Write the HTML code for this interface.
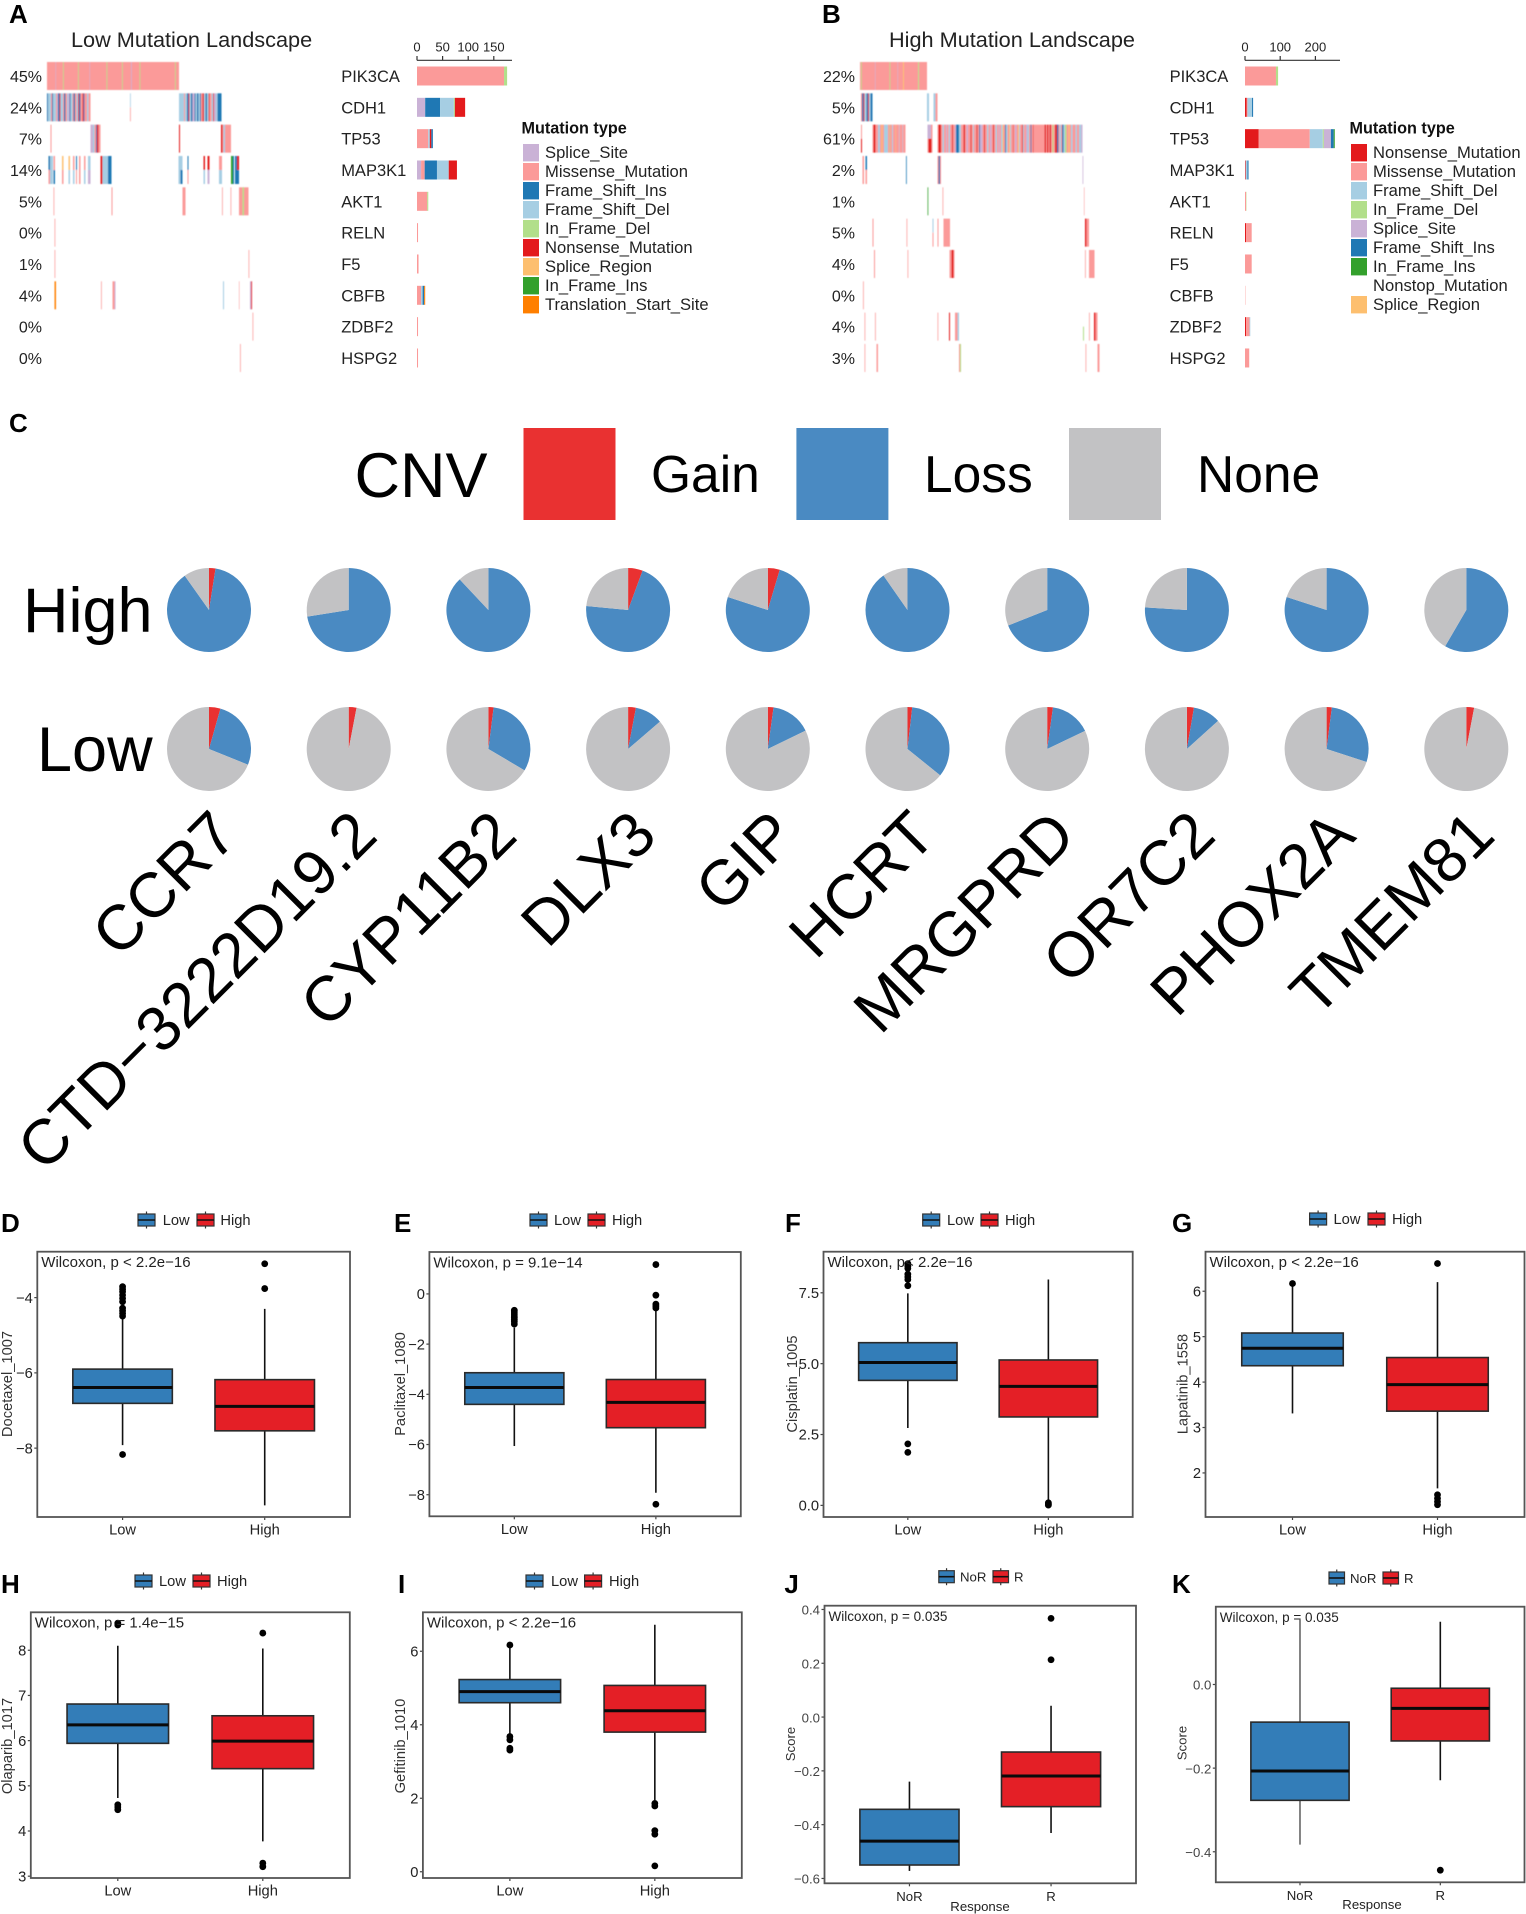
<!DOCTYPE html>
<html>
<head>
<meta charset="utf-8">
<title>Mutation landscape, CNV and drug sensitivity figure</title>
<style>
html,body{margin:0;padding:0;background:#fff;}
svg{display:block;font-family:"Liberation Sans",sans-serif;}
</style>
</head>
<body>
<svg id="fig" xmlns="http://www.w3.org/2000/svg" width="1526" height="1914" viewBox="0 0 1526 1914">
<defs><filter id="soft" x="-2%" y="-2%" width="104%" height="104%"><feGaussianBlur stdDeviation="0.45"/></filter></defs>
<rect width="1526" height="1914" fill="#fff"/>
<g id="onco"></g>
<g id="cnv"></g>
<g id="boxes"></g>
</svg>
<script>
/* ---------- Oncoplot data: [first sample, sample count, mutation code, optional half] ---------- */
const mutationColors = {M:'#FB9A99',N:'#E31A1C',I:'#1F78B4',D:'#A6CEE3',d:'#B2DF8A',i:'#33A02C',S:'#CAB2D6',R:'#FDBF6F',T:'#FF7F00'};
const geneNames = ['PIK3CA','CDH1','TP53','MAP3K1','AKT1','RELN','F5','CBFB','ZDBF2','HSPG2'];
const lowPercents = ['45%','24%','7%','14%','5%','0%','1%','4%','0%','0%'];
const highPercents = ['22%','5%','61%','2%','1%','5%','4%','0%','4%','3%'];

const lowPIK3CA = [[0,264,'M'],[32,1.5,'d'],[62,1.5,'d'],[119,1.5,'d'],[150,1.5,'d'],[185,1.5,'d'],[256,1.5,'d'],[17,1,'S'],[85,1,'S'],[168,1.5,'S']];
const lowCDH1 = [[0,2,'I'],[2,6,'D'],[8,2,'M'],[10,2,'I'],[12,6,'D'],[18,2,'M'],[20,2,'S'],[22,3,'I'],[25,2,'N'],[27,5,'D'],[32,2,'M'],[34,3,'I'],[37,3,'M'],[40,2,'D'],[42,3,'S'],[45,2,'I'],[47,4,'D'],[51,2,'M'],[53,3,'I'],[56,3,'M'],[59,3,'D'],[62,2,'N'],[64,3,'I'],[67,4,'M'],[71,2,'N'],[73,2,'I'],[75,5,'M'],[80,3,'D'],[83,4,'M'],[166,1.5,'D','t'],[166,1.5,'M','b'],[264,10,'D'],[274,2,'M'],[276,4,'D'],[280,3,'I'],[283,2,'N'],[285,3,'D'],[288,3,'I'],[291,4,'S'],[295,2,'I'],[297,3,'D'],[300,3,'I'],[303,3,'D'],[306,2,'I'],[308,3,'M'],[311,3,'N'],[314,3,'D'],[317,3,'I'],[320,3,'D'],[323,2,'N'],[325,4,'M'],[329,3,'D'],[332,2,'N'],[334,4,'S'],[338,3,'D'],[341,4,'I'],[345,4,'I']];
const lowTP53 = [[7,2,'M'],[87,5,'S'],[92,3,'D'],[95,3,'M'],[98,2,'I'],[100,3,'N'],[103,4,'M'],[264,2,'N'],[348,3,'N'],[351,2,'M'],[353,3,'D'],[356,12,'M']];
const lowMAP3K1 = [[3,3,'M','b'],[3,3,'I','t'],[6,4,'D'],[10,2,'D'],[13,3,'M','t'],[13,3,'I','b'],[30,3,'R','t'],[30,3,'M','b'],[43,3,'R','t'],[43,3,'D','b'],[52,3,'M','t'],[52,3,'D','b'],[58,2,'I','t'],[58,2,'M','b'],[64,3,'M'],[74,3,'M','t'],[74,3,'D','b'],[82,5,'D','t'],[82,5,'S','b'],[107,4,'N'],[111,11,'D'],[122,7,'I'],[263,8,'D'],[267,4,'I','b'],[281,2,'I','t'],[281,2,'M','b'],[313,3,'N','t'],[313,3,'D','b'],[321,4,'N','t'],[321,4,'S','b'],[344,6,'M','t'],[344,6,'D','b'],[368,4,'i'],[372,2,'I'],[376,4,'I'],[380,4,'N'],[376,8,'I','b']];
const lowAKT1 = [[13,1.5,'M'],[129,2,'M'],[271,6,'M'],[350,1.5,'M'],[367,1.5,'M'],[384,19,'M'],[391,3,'d']];
const lowRELN = [[15,1.5,'M']];
const lowF5 = [[15,1.5,'M'],[403,1.5,'M']];
const lowCBFB = [[15,3,'T'],[108,1.5,'M'],[131,4,'M'],[135,2,'S'],[352,2,'D'],[384,1,'M'],[406,2,'S'],[408,2,'N']];
const lowZDBF2 = [[411,1.5,'M']];
const lowHSPG2 = [[386,1.5,'M']];

const highPIK3CA = [[0,134,'M'],[2,1.5,'d'],[59,1.5,'d'],[86,2,'R'],[116,2,'d'],[30,1,'S'],[75,1,'S']];
const highCDH1 = [[2,2,'M'],[4,3,'I'],[7,2,'N'],[9,4,'D'],[13,3,'I'],[16,2,'N'],[18,3,'D'],[21,4,'I'],[134,4,'D'],[147,4,'D'],[151,4,'M']];
const highTP53 = [[2,2,'M','t'],[2,2,'N','b'],[25,2,'M'],[27,4,'N'],[31,5,'M'],[36,4,'D'],[40,3,'M'],[43,2,'R'],[45,3,'M'],[48,3,'D'],[51,5,'D'],[56,3,'M'],[59,1,'d'],[60,4,'M'],[64,2,'D'],[66,5,'M'],[71,1,'R'],[72,6,'M'],[78,1,'D'],[79,6,'M'],[85,1,'D'],[86,5,'M'],[135,7,'S','t'],[142,3,'M','t'],[135,2,'M','b'],[137,6,'N','b'],[143,2,'M','b'],[155,2,'M'],[157,5,'N'],[162,3,'M'],[165,3,'D'],[168,4,'M'],[172,2,'S'],[174,3,'M'],[177,3,'D'],[180,4,'M'],[184,2,'N'],[186,4,'M'],[190,2,'S'],[192,6,'I'],[198,4,'D'],[202,5,'M'],[207,3,'N'],[210,3,'M'],[213,3,'S'],[216,5,'M'],[221,2,'N'],[223,3,'M'],[226,2,'D'],[228,5,'M'],[233,2,'N'],[235,3,'M'],[238,2,'I'],[240,5,'S'],[245,3,'M'],[248,2,'N'],[250,4,'M'],[254,3,'D'],[257,3,'M'],[260,3,'S'],[263,3,'M'],[266,2,'N'],[268,3,'M'],[271,3,'D'],[274,3,'M'],[277,2,'S'],[279,3,'M'],[282,3,'D'],[285,2,'R'],[287,3,'M'],[290,2,'I'],[292,3,'D'],[295,3,'M'],[298,2,'R'],[300,2,'D'],[302,4,'M'],[306,1,'N'],[307,3,'M'],[310,3,'S'],[313,3,'M'],[316,2,'R'],[318,2,'D'],[320,4,'M'],[324,2,'N'],[326,2,'D'],[328,4,'M'],[332,3,'S'],[335,3,'D'],[338,3,'M'],[341,2,'I'],[343,3,'M'],[346,1.5,'N'],[347.5,21.5,'M'],[369,3,'N'],[372,2,'M'],[374,3,'N'],[377,2,'M'],[379,3,'N'],[382,3,'M'],[385,2,'d'],[387,3,'M'],[390,4,'N'],[394,3,'I'],[397,2,'M'],[399,3,'D'],[402,2,'M'],[404,3,'I'],[407,3,'D'],[410,3,'d'],[413,4,'M'],[417,2,'R'],[419,3,'M'],[422,3,'D'],[425,6,'M'],[431,3,'D'],[434,4,'M'],[438,4,'D'],[442,3,'S']];
const highMAP3K1 = [[5,3,'M'],[11,3,'I','t'],[11,3,'M','b'],[92,1.5,'I'],[155,2,'M'],[157,3,'I'],[160,2,'M'],[445,1.5,'S']];
const highAKT1 = [[135,1.5,'i'],[165,1.5,'M'],[448,1,'M']];
const highRELN = [[25,2,'M'],[93,1.5,'M'],[145,2,'D','t'],[145,2,'M','b'],[155,2,'M'],[167,13,'M'],[450,3,'N'],[453,5,'M']];
const highF5 = [[28,2,'M'],[95,1.5,'M'],[179,4,'M'],[183,4,'N'],[187,2,'M'],[450,1.5,'M'],[458,11,'M']];
const highCBFB = [[6,1.5,'M']];
const highZDBF2 = [[9,1.5,'M'],[30,1.5,'M'],[155,1.5,'M'],[178,2,'N'],[190,5,'M'],[195,3,'D'],[446,2,'d','b'],[458,1.5,'M'],[468,3,'N'],[471,4,'M']];
const highHSPG2 = [[9,1.5,'M'],[33,3,'M'],[198,2,'M'],[200,2,'d'],[451,1.5,'M'],[475,4,'M']];

const lowRows = [lowPIK3CA,lowCDH1,lowTP53,lowMAP3K1,lowAKT1,lowRELN,lowF5,lowCBFB,lowZDBF2,lowHSPG2];
const highRows = [highPIK3CA,highCDH1,highTP53,highMAP3K1,highAKT1,highRELN,highF5,highCBFB,highZDBF2,highHSPG2];

/* Per-gene stacked counts for the right-hand bars */
const lowBars = [[['M',170],['d',6]],[['S',16],['I',29],['D',27],['d',2],['N',20]],[['M',22],['D',3],['N',3],['I',3]],[['S',8],['M',7],['I',24],['D',23],['N',16]],[['M',20],['d',2]],[['M',2]],[['M',3]],[['M',8],['D',3],['I',3],['T',2]],[['M',2]],[['M',2]]];
const highBars = [[['M',88],['d',6]],[['N',5],['M',2],['D',13],['I',3]],[['N',39],['M',145],['D',37],['d',3],['S',20],['I',8],['i',3]],[['N',2],['D',5],['I',3]],[['M',3],['d',1]],[['N',3],['M',16]],[['M',19]],[['M',1]],[['N',3],['M',10],['D',2]],[['M',12]]];
const lowBarTicks = [0,50,100,150];
const highBarTicks = [0,100,200];
const lowLegendLabels = [['S','Splice_Site'],['M','Missense_Mutation'],['I','Frame_Shift_Ins'],['D','Frame_Shift_Del'],['d','In_Frame_Del'],['N','Nonsense_Mutation'],['R','Splice_Region'],['i','In_Frame_Ins'],['T','Translation_Start_Site']];
const highLegendLabels = [['N','Nonsense_Mutation'],['M','Missense_Mutation'],['D','Frame_Shift_Del'],['d','In_Frame_Del'],['S','Splice_Site'],['I','Frame_Shift_Ins'],['i','In_Frame_Ins'],['','Nonstop_Mutation'],['R','Splice_Region']];

/* ---------- CNV pie data (percent of samples) ---------- */
const cnvGenes = ['CCR7','CTD\u22123222D19.2','CYP11B2','DLX3','GIP','HCRT','MRGPRD','OR7C2','PHOX2A','TMEM81'];
const highGain = [2.5,0,0,5.6,4.6,0,0,0,0,0];
const highLoss = [87.7,72.5,88,70.9,75.4,90.3,69,76,80,58.4];
const highNone = [9.8,27.5,12,23.5,20,9.7,31,24,20,41.6];
const lowGain = [4.4,3,2,3,2.2,1.8,2.2,2.7,2,3];
const lowLoss = [26.7,0,31.5,10.7,15.6,34,15.7,10.6,28,0];
const lowNone = [68.9,97,66.5,86.3,82.2,64.2,82.1,86.7,70,97];

/* ---------- Boxplot data: [whisker low, q1, median, q3, whisker high] ---------- */
const docetaxelTicks = [-4,-6,-8];
const docetaxelLabels = ['\u22124','\u22126','\u22128'];
const docetaxelLow = [-7.92,-6.81,-6.39,-5.90,-4.55];
const docetaxelHigh = [-9.52,-7.54,-6.89,-6.18,-4.30];
const docetaxelLowOut = [-3.71,-3.78,-3.84,-3.93,-4.02,-4.11,-4.28,-4.35,-4.42,-4.49,-8.17];
const docetaxelHighOut = [-3.10,-3.76];

const paclitaxelTicks = [0,-2,-4,-6,-8];
const paclitaxelLabels = ['0','\u22122','\u22124','\u22126','\u22128'];
const paclitaxelLow = [-6.06,-4.40,-3.73,-3.14,-1.34];
const paclitaxelHigh = [-7.92,-5.33,-4.32,-3.41,-0.58];
const paclitaxelLowOut = [-0.65,-0.72,-0.8,-0.88,-0.95,-1.03,-1.1,-1.2];
const paclitaxelHighOut = [1.17,-0.05,-0.41,-0.49,-0.56,-8.38];

const cisplatinTicks = [7.5,5,2.5,0];
const cisplatinLabels = ['7.5','5.0','2.5','0.0'];
const cisplatinLow = [2.73,4.41,5.04,5.74,7.48];
const cisplatinHigh = [0.19,3.12,4.2,5.13,7.97];
const cisplatinLowOut = [8.53,8.44,8.36,8.16,8.06,7.97,7.75,2.17,1.87];
const cisplatinHighOut = [0.09,0.05,0.01];

const lapatinibTicks = [6,5,4,3,2];
const lapatinibLabels = ['6','5','4','3','2'];
const lapatinibLow = [3.31,4.36,4.745,5.08,6.12];
const lapatinibHigh = [1.66,3.36,3.945,4.54,6.2];
const lapatinibLowOut = [6.17];
const lapatinibHighOut = [6.61,1.52,1.44,1.37,1.3];

const olaparibTicks = [8,7,6,5,4,3];
const olaparibLabels = ['8','7','6','5','4','3'];
const olaparibLow = [4.73,5.94,6.35,6.81,8.1];
const olaparibHigh = [3.77,5.38,5.99,6.55,8.04];
const olaparibLowOut = [8.6,8.56,4.58,4.53,4.47];
const olaparibHighOut = [8.38,3.29,3.21];

const gefitinibTicks = [6,4,2,0];
const gefitinibLabels = ['6','4','2','0'];
const gefitinibLow = [3.72,4.6,4.9,5.23,6.13];
const gefitinibHigh = [1.95,3.8,4.38,5.07,6.72];
const gefitinibLowOut = [6.17,3.68,3.59,3.36,3.31];
const gefitinibHighOut = [1.86,1.79,1.12,1.02,0.16];

const scoreJTicks = [0.4,0.2,0,-0.2,-0.4,-0.6];
const scoreJLabels = ['0.4','0.2','0.0','\u22120.2','\u22120.4','\u22120.6'];
const scoreJNoR = [-0.572,-0.55,-0.461,-0.343,-0.24];
const scoreJR = [-0.431,-0.333,-0.219,-0.13,0.042];
const scoreJNoROut = [];
const scoreJROut = [0.367,0.213];

const scoreKTicks = [0,-0.2,-0.4];
const scoreKLabels = ['0.0','\u22120.2','\u22120.4'];
const scoreKNoR = [-0.383,-0.277,-0.207,-0.09,0.155];
const scoreKR = [-0.229,-0.135,-0.057,-0.009,0.15];
const scoreKNoROut = [];
const scoreKROut = [-0.444];

const lowHighCats = ['Low','High'];
const responseCats = ['NoR','R'];

const panels = [
 {id:'D',yTitle:'Docetaxel_1007',p:'Wilcoxon, p < 2.2e\u221216',ticks:docetaxelTicks,labels:docetaxelLabels,a:docetaxelLow,b:docetaxelHigh,ao:docetaxelLowOut,bo:docetaxelHighOut,cats:lowHighCats,domain:[-9.83,-2.78],l:37.3,r:350,t:1251.7,b2:1517,lx:1,ly:1232,tx:12,ty:1384,leg:[138,162.7,197,220.4,1220],fs:14.7},
 {id:'E',yTitle:'Paclitaxel_1080',p:'Wilcoxon, p = 9.1e\u221214',ticks:paclitaxelTicks,labels:paclitaxelLabels,a:paclitaxelLow,b:paclitaxelHigh,ao:paclitaxelLowOut,bo:paclitaxelHighOut,cats:lowHighCats,domain:[-8.86,1.67],l:429.4,r:740.8,t:1252,b2:1516.3,lx:394,ly:1232,tx:405,ty:1384,leg:[530,554,588,612,1220],fs:14.7},
 {id:'F',yTitle:'Cisplatin_1005',p:'Wilcoxon, p< 2.2e\u221216',ticks:cisplatinTicks,labels:cisplatinLabels,a:cisplatinLow,b:cisplatinHigh,ao:cisplatinLowOut,bo:cisplatinHighOut,cats:lowHighCats,domain:[-0.41,8.95],l:823.5,r:1132.7,t:1251.7,b2:1517,lx:785,ly:1232,tx:797,ty:1384,leg:[922.7,947,981,1005,1220],fs:14.7},
 {id:'G',yTitle:'Lapatinib_1558',p:'Wilcoxon, p < 2.2e\u221216',ticks:lapatinibTicks,labels:lapatinibLabels,a:lapatinibLow,b:lapatinibHigh,ao:lapatinibLowOut,bo:lapatinibHighOut,cats:lowHighCats,domain:[1.03,6.87],l:1205.5,r:1524.5,t:1251.7,b2:1517,lx:1172,ly:1232,tx:1187.5,ty:1384,leg:[1309.6,1333.5,1368,1392,1219],fs:14.7},
 {id:'H',yTitle:'Olaparib_1017',p:'Wilcoxon, p = 1.4e\u221215',ticks:olaparibTicks,labels:olaparibLabels,a:olaparibLow,b:olaparibHigh,ao:olaparibLowOut,bo:olaparibHighOut,cats:lowHighCats,domain:[2.96,8.84],l:30.8,r:349.8,t:1612.3,b2:1878,lx:1,ly:1593,tx:12,ty:1746,leg:[135,159,193,217,1581],fs:14.7},
 {id:'I',yTitle:'Gefitinib_1010',p:'Wilcoxon, p < 2.2e\u221216',ticks:gefitinibTicks,labels:gefitinibLabels,a:gefitinibLow,b:gefitinibHigh,ao:gefitinibLowOut,bo:gefitinibHighOut,cats:lowHighCats,domain:[-0.17,7.06],l:422.9,r:741.8,t:1612.3,b2:1878,lx:398,ly:1593,tx:405,ty:1746,leg:[526,551,584.6,609,1581],fs:14.7},
 {id:'J',yTitle:'Score',p:'Wilcoxon, p = 0.035',ticks:scoreJTicks,labels:scoreJLabels,a:scoreJNoR,b:scoreJR,ao:scoreJNoROut,bo:scoreJROut,cats:responseCats,domain:[-0.618,0.414],l:824.5,r:1136,t:1605.7,b2:1883.3,lx:784.4,ly:1593,tx:795,ty:1744,leg:[938.8,960,993,1014,1576.7],fs:13.2,xTitle:[980,1911]},
 {id:'K',yTitle:'Score',p:'Wilcoxon, p = 0.035',ticks:scoreKTicks,labels:scoreKLabels,a:scoreKNoR,b:scoreKR,ao:scoreKNoROut,bo:scoreKROut,cats:responseCats,domain:[-0.473,0.186],l:1215.8,r:1524.5,t:1606.7,b2:1882.3,lx:1172,ly:1593,tx:1186.5,ty:1743,leg:[1329,1350,1383,1404,1578],fs:13.2,xTitle:[1372,1909]}
];

/* ---------- Drawing helpers ---------- */
const NS = 'http://www.w3.org/2000/svg';
function make(tag, parent, attrs, txt) {
  const n = document.createElementNS(NS, tag);
  for (const k in attrs) n.setAttribute(k, attrs[k]);
  if (txt !== undefined) n.textContent = txt;
  parent.appendChild(n);
  return n;
}
function label(parent, x, y, size, txt, extra) {
  return make('text', parent, Object.assign({x:x, y:y, 'font-size':size, fill:'#111'}, extra || {}), txt);
}

/* ---------- Panels A and B ---------- */
const rowTop = 62, rowPitch = 31.33, rowHeight = 28, sampleWidth = 0.5, barHeight = 19;

function drawLandscape(cfg) {
  const g = make('g', document.getElementById('onco'), {});
  
  

  const letter = label(g, cfg.letterX, 23, 26, cfg.letter, {'font-weight':'bold', fill:'#000'});
  
  

  const title = label(g, cfg.titleX, 47, 21.7, cfg.title, {fill:'#222'});
  
  

  const barX = v => cfg.barX0 + v * cfg.barScale;
  const cells = make('g', g, {filter:'url(#soft)'});
  
  

  geneNames.forEach((gene, i) => {
    const y = rowTop + i * rowPitch;
    const mid = y + rowHeight / 2;

    const pct = label(g, cfg.pctX, mid + 6, 16, cfg.percents[i], {'text-anchor':'end', fill:'#222'});
    
    

    cfg.rows[i].forEach(seg => {
      const half = seg[3];
      const r = make('rect', cells, {
        x: cfg.x0 + seg[0] * sampleWidth,
        y: half === 'b' ? y + rowHeight / 2 : y,
        width: seg[1] * sampleWidth,
        height: half ? rowHeight / 2 : rowHeight,
        fill: mutationColors[seg[2]]
      });
      
      
    });

    const name = label(g, cfg.geneX, mid + 6, 16.5, gene, {fill:'#222'});
    
    

    let acc = 0;
    cfg.bars[i].forEach(part => {
      const r = make('rect', g, {
        x: barX(acc), y: mid - barHeight / 2,
        width: part[1] * cfg.barScale, height: barHeight,
        fill: mutationColors[part[0]]
      });
      
      
      acc += part[1];
    });
  });

  const axis = make('line', g, {x1:cfg.barX0, x2:cfg.barAxisEnd, y1:60.3, y2:60.3, stroke:'#333', 'stroke-width':1.2});
  
  
  cfg.barTicks.forEach(t => {
    make('line', g, {x1:barX(t), x2:barX(t), y1:56, y2:60.3, stroke:'#333', 'stroke-width':1.2});
    const tl = label(g, barX(t), 51.3, 13, String(t), {'text-anchor':'middle', fill:'#222'});
    
    
  });

  const lt = label(g, cfg.legX - 1.5, 133.7, 16.2, 'Mutation type', {'font-weight':'bold', fill:'#111'});
  
  
  cfg.legend.forEach((entry, i) => {
    const cy = 152.7 + i * 19;
    if (entry[0]) {
      const sw = make('rect', g, {x:cfg.legX, y:cy - 8.7, width:16, height:17.4, fill:mutationColors[entry[0]]});
      
      
    }
    const lb = label(g, cfg.legX + 22, cy + 5.4, 16.6, entry[1], {fill:'#222'});
    
    
  });
}

drawLandscape({name:'low-mutation-landscape',letter:'A',letterX:9,title:'Low Mutation Landscape',titleX:71,percents:lowPercents,rows:lowRows,bars:lowBars,barTicks:lowBarTicks,legend:lowLegendLabels,x0:47,pctX:42,geneX:341.2,barX0:417,barScale:0.512,barAxisEnd:512,legX:523});
drawLandscape({name:'high-mutation-landscape',letter:'B',letterX:822,title:'High Mutation Landscape',titleX:889,percents:highPercents,rows:highRows,bars:highBars,barTicks:highBarTicks,legend:highLegendLabels,x0:860,pctX:855,geneX:1169.6,barX0:1245,barScale:0.352,barAxisEnd:1340,legX:1351});

/* ---------- Panel C ---------- */
const gainColor = '#E93131', lossColor = '#4A8AC2', noneColor = '#C2C2C4';
const pieRadius = 42, pieX0 = 209, piePitch = 139.7;

function slicePath(cx, cy, r, startPct, pct) {
  const a0 = startPct / 100 * 2 * Math.PI, a1 = (startPct + pct) / 100 * 2 * Math.PI;
  const large = pct > 50 ? 1 : 0;
  return 'M' + cx + ' ' + cy + 'L' + (cx + r * Math.sin(a0)) + ' ' + (cy - r * Math.cos(a0)) +
    'A' + r + ' ' + r + ' 0 ' + large + ' 1 ' + (cx + r * Math.sin(a1)) + ' ' + (cy - r * Math.cos(a1)) + 'Z';
}
function drawPie(parent, cx, cy, gain, loss, none) {
  let start = 0;
  [[gain, gainColor, 'gain-slice'], [loss, lossColor, 'loss-slice'], [none, noneColor, 'none-slice']].forEach(s => {
    if (s[0] > 0) {
      const p = make('path', parent, {d: slicePath(cx, cy, pieRadius, start, s[0]), fill: s[1]});
      
      
    }
    start += s[0];
  });
}
(function () {
  const g = document.getElementById('cnv');
  const letter = label(g, 9, 432, 26, 'C', {'font-weight':'bold', fill:'#000'});
  
  

  const head = label(g, 354.5, 497, 63, 'CNV', {fill:'#000'});
  
  

  [[523.5, gainColor, 651, 'Gain'], [796.4, lossColor, 924, 'Loss'], [1069, noneColor, 1197, 'None']].forEach(e => {
    const sw = make('rect', g, {x:e[0], y:428, width:92, height:92, fill:e[1]});
    
    
    const tx = label(g, e[2], 492, 51.5, e[3], {fill:'#000'});
    
    
  });

  const hi = label(g, 23, 632, 63, 'High', {fill:'#000'});
  
  
  const lo = label(g, 37, 771, 63, 'Low', {fill:'#000'});
  
  

  cnvGenes.forEach((gene, i) => {
    const cx = pieX0 + i * piePitch;
    const pg = make('g', g, {});
    
    
    drawPie(pg, cx, 610, highGain[i], highLoss[i], highNone[i]);
    drawPie(pg, cx, 749, lowGain[i], lowLoss[i], lowNone[i]);
    const bx = cx + 31, by = 838;
    const t = label(g, bx, by, 63, gene, {'text-anchor':'end', fill:'#000', transform:'rotate(-45 ' + bx + ' ' + by + ')'});
    
    
  });
})();

/* ---------- Panels D to K ---------- */
const blueBox = '#337DB8', redBox = '#E41F26';

function drawLegendKey(g, x, cy, fill, w) {
  make('line', g, {x1:x + w / 2, x2:x + w / 2, y1:cy - 8.5, y2:cy + 8.5, stroke:'#333', 'stroke-width':1.2});
  const r = make('rect', g, {x:x, y:cy - 6, width:w, height:12, fill:fill, stroke:'#333', 'stroke-width':1.2});
  
  
  make('line', g, {x1:x, x2:x + w, y1:cy, y2:cy, stroke:'#111', 'stroke-width':1.6});
}

function drawBox(g, xc, halfW, stats, outliers, fill, yScale, whiskerColor) {
  const wl = make('line', g, {x1:xc, x2:xc, y1:yScale(stats[0]), y2:yScale(stats[4]), stroke:whiskerColor, 'stroke-width':1.6});
  
  
  const body = make('rect', g, {x:xc - halfW, y:yScale(stats[3]), width:halfW * 2, height:yScale(stats[1]) - yScale(stats[3]), fill:fill, stroke:'#2a2a2a', 'stroke-width':1.6});
  
  
  const med = make('line', g, {x1:xc - halfW, x2:xc + halfW, y1:yScale(stats[2]), y2:yScale(stats[2]), stroke:'#0a0a0a', 'stroke-width':3});
  
  
  outliers.forEach(v => {
    const c = make('circle', g, {cx:xc, cy:yScale(v), r:3.4, fill:'#000'});
    
    
  });
}

panels.forEach(p => {
  const g = make('g', document.getElementById('boxes'), {});
  
  

  const w = p.r - p.l;
  const yScale = v => p.b2 - (v - p.domain[0]) / (p.domain[1] - p.domain[0]) * (p.b2 - p.t);
  const xScale = i => p.l + (i + 0.6) / 2.2 * w;
  const halfW = 0.35 / 2.2 * w;
  const fs = p.fs;
  const textColor = fs < 14 ? '#444' : '#222';

  const letter = label(g, p.lx, p.ly, 26, p.id, {'font-weight':'bold', fill:'#000'});
  
  

  /* legend */
  const keyW = fs < 14 ? 15.5 : 17;
  drawLegendKey(g, p.leg[0], p.leg[4], blueBox, keyW);
  const la = label(g, p.leg[1], p.leg[4] + 5, fs, p.cats[0], {fill:'#222'});
  
  
  drawLegendKey(g, p.leg[2], p.leg[4], redBox, keyW);
  const lb = label(g, p.leg[3], p.leg[4] + 5, fs, p.cats[1], {fill:'#222'});
  
  

  /* y axis */
  p.ticks.forEach((t, i) => {
    const y = yScale(t);
    make('line', g, {x1:p.l - 3, x2:p.l, y1:y, y2:y, stroke:'#444', 'stroke-width':1.2});
    const tl = label(g, p.l - 4.5, y + 5.2, fs, p.labels[i], {'text-anchor':'end', fill:textColor});
    
    
  });
  const yt = label(g, p.tx, p.ty, fs, p.yTitle, {'text-anchor':'middle', fill:'#333', transform:'rotate(-90 ' + p.tx + ' ' + p.ty + ')'});
  
  

  /* x axis */
  p.cats.forEach((c, i) => {
    const x = xScale(i);
    make('line', g, {x1:x, x2:x, y1:p.b2, y2:p.b2 + 3, stroke:'#444', 'stroke-width':1.2});
    const tl = label(g, x, p.b2 + 17.5, fs, c, {'text-anchor':'middle', fill:'#222'});
    
    
  });
  if (p.xTitle) {
    const xt = label(g, p.xTitle[0], p.xTitle[1], fs, 'Response', {'text-anchor':'middle', fill:'#222'});
    
    
  }

  /* boxes */
  drawBox(g, xScale(0), halfW, p.a, p.ao, blueBox, yScale, p.id === 'K' ? '#666' : '#111');
  drawBox(g, xScale(1), halfW, p.b, p.bo, redBox, yScale, '#111');

  /* frame */
  const frame = make('rect', g, {x:p.l, y:p.t, width:w, height:p.b2 - p.t, fill:'none', stroke:'#555', 'stroke-width':1.8});
  
  

  /* wilcoxon label */
  const pt = label(g, p.l + 4, p.t + (fs < 14 ? 15.5 : 15.3), fs < 14 ? 13.5 : 15, p.p, {fill:'#222'});
  
  
});
</script>
</body>
</html>
